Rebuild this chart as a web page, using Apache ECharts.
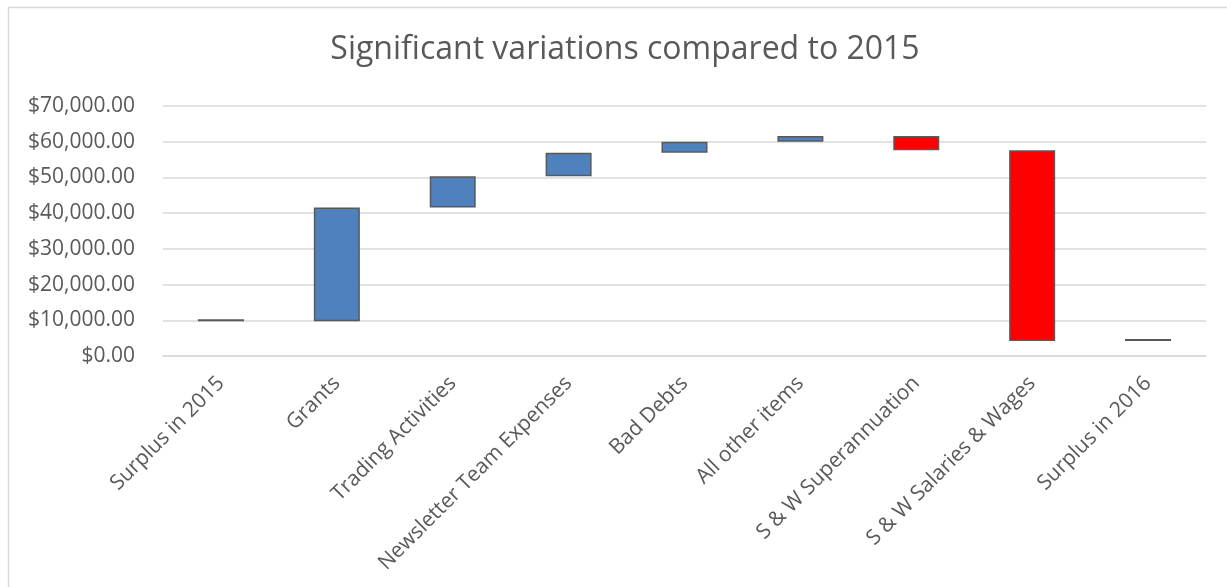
<!DOCTYPE html>
<html lang="en">
<head>
    <meta charset="UTF-8">
    <title>Significant variations compared to 2015</title>
    <script src="https://cdn.jsdelivr.net/npm/echarts@6/dist/echarts.min.js"></script>
    <style>
        html, body { margin: 0; padding: 0; background: #fff; }
        #chart { width: 1227px; height: 587px; }
    </style>
</head>
<body>
<div id="chart"></div>
<script type="text/javascript">

    // data
    var categories = ['Surplus in 2015', 'Grants', 'Trading Activities', 'Newsletter Team Expenses',
        'Bad Debts', 'All other items', 'S & W Superannuation', 'S & W Salaries & Wages', 'Surplus in 2016'];
    var startValue = 9700;
    var changes = [31900, 8700, 6600, 3100, 1600, -4000, -53400];
    var endValue = 4200;
    var yTicks = [0, 10000, 20000, 30000, 40000, 50000, 60000, 70000];

    var blue = '#4f81bd';
    var red = '#ff0000';
    var edge = '#595959';

    // invisible base + visible step, stacked
    var base = [startValue];
    var step = [{value: 0, itemStyle: {color: edge, borderWidth: 0}}];
    var running = startValue;
    for (var i = 0; i < changes.length; i++) {
        var c = changes[i];
        var next = running + c;
        base.push(Math.min(running, next));
        step.push({value: Math.abs(c), itemStyle: {color: c >= 0 ? blue : red}});
        running = next;
    }
    base.push(endValue);
    step.push({value: 0, itemStyle: {color: edge, borderWidth: 0}});

    function money(v) {
        return '$' + v.toLocaleString('en-US', {minimumFractionDigits: 2, maximumFractionDigits: 2});
    }

    var chart = echarts.init(document.getElementById('chart'));
    chart.setOption({
        backgroundColor: '#fff',
        animation: false,
        graphic: [{
            type: 'rect',
            shape: {x: 8.5, y: 7.5, width: 1260, height: 620},
            style: {fill: 'none', stroke: '#d9d9d9', lineWidth: 1.5},
            silent: true
        }],
        title: {
            text: 'Significant variations compared to 2015',
            left: 620,
            textAlign: 'center',
            top: 29,
            textStyle: {
                fontFamily: 'Open Sans',
                fontWeight: 'normal',
                fontSize: 32,
                color: '#595959'
            }
        },
        grid: {left: 163, right: 21, top: 106, bottom: 231},
        xAxis: {
            type: 'category',
            data: categories,
            axisLine: {lineStyle: {color: '#d9d9d9', width: 1.5}},
            axisTick: {show: false},
            axisLabel: {
                interval: 0,
                rotate: 45,
                margin: 24,
                fontFamily: 'Open Sans',
                fontSize: 21,
                color: '#595959'
            }
        },
        yAxis: {
            type: 'value',
            min: yTicks[0],
            max: yTicks[yTicks.length - 1],
            interval: yTicks[1] - yTicks[0],
            axisLine: {show: false},
            axisTick: {show: false},
            splitLine: {lineStyle: {color: '#d9d9d9', width: 1.5}},
            axisLabel: {
                margin: 28,
                fontFamily: 'Open Sans',
                fontSize: 21,
                color: '#595959',
                formatter: money
            }
        },
        series: [
            {
                name: 'base',
                type: 'bar',
                stack: 'w',
                barWidth: 46,
                silent: true,
                itemStyle: {color: 'transparent'},
                data: base
            },
            {
                name: 'step',
                type: 'bar',
                stack: 'w',
                barWidth: 46,
                barMinHeight: 2,
                itemStyle: {borderColor: edge, borderWidth: 1.5},
                data: step
            }
        ]
    });
</script>
</body>
</html>
